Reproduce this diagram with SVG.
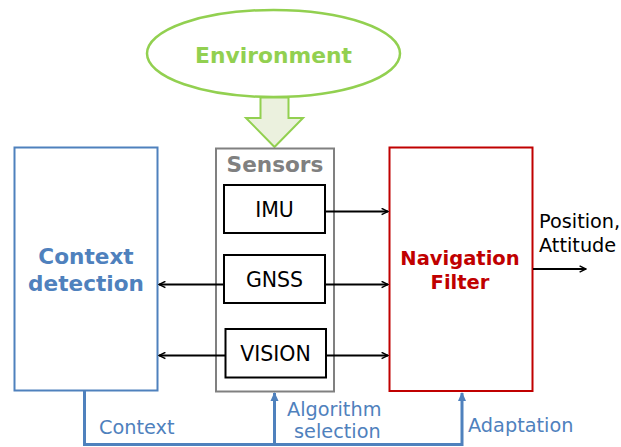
<svg xmlns="http://www.w3.org/2000/svg" width="621" height="447" viewBox="0 0 621 447">
<defs>
<style>
text{font-family:"DejaVu Sans","Verdana",sans-serif}
.b{font-weight:bold}
.box{fill:#fff;stroke-width:2}
.blk{stroke:#000;stroke-width:1.8;fill:none}
.blu{stroke:#4f81bd;stroke-width:3;fill:none}
</style>
<marker id="ah" viewBox="0 0 10 10" refX="9" refY="5" markerWidth="8" markerHeight="8" markerUnits="userSpaceOnUse" orient="auto">
<path d="M1,1 L9,5 L1,9" fill="none" stroke="#000" stroke-width="1.8"/>
</marker>
<marker id="bh" viewBox="0 0 10 10" refX="9" refY="5" markerWidth="9" markerHeight="9" markerUnits="userSpaceOnUse" orient="auto">
<path d="M0,0.5 L10,5 L0,9.5 Z" fill="#4f81bd"/>
</marker>
</defs>
<rect width="621" height="447" fill="#fff"/>
<g id="environment">
<ellipse cx="273.5" cy="53.5" rx="126.5" ry="43.5" fill="#fff" stroke="#92d050" stroke-width="2.5"/>
<text x="273.5" y="62.5" text-anchor="middle" class="b" font-size="21.8" fill="#92d050">Environment</text>
</g>
<g id="env-arrow">
<path d="M260.5,97.5 H288.5 V118 H303 L274.5,147 L246,118 H260.5 Z" fill="#ebf1de" stroke="#92d050" stroke-width="2"/>
</g>
<g id="context-detection">
<rect x="14.5" y="147.5" width="143" height="243" class="box" stroke="#4f81bd"/>
<text x="86" y="264" text-anchor="middle" class="b" font-size="21.6" fill="#4f81bd">Context</text>
<text x="86" y="290.5" text-anchor="middle" class="b" font-size="21.6" fill="#4f81bd">detection</text>
</g>
<g id="sensors">
<rect x="216" y="148.5" width="118" height="243" class="box" stroke="#808080"/>
<text x="275" y="171.5" text-anchor="middle" class="b" font-size="21.6" fill="#808080">Sensors</text>
</g>
<g id="imu">
<rect x="224" y="185" width="101" height="48" class="box" stroke="#000"/>
<text x="274.5" y="217.3" text-anchor="middle" font-size="20.5" fill="#000">IMU</text>
</g>
<g id="gnss">
<rect x="224" y="255" width="101" height="48" class="box" stroke="#000"/>
<text x="274.5" y="286.7" text-anchor="middle" font-size="20.5" fill="#000">GNSS</text>
</g>
<g id="vision">
<rect x="225.5" y="329" width="100.5" height="48.5" class="box" stroke="#000"/>
<text x="275.5" y="360.7" text-anchor="middle" font-size="20.5" fill="#000">VISION</text>
</g>
<g id="navigation-filter">
<rect x="389.5" y="147.5" width="143" height="243.5" class="box" stroke="#c00000"/>
<text x="460" y="265" text-anchor="middle" class="b" font-size="19.5" fill="#c00000">Navigation</text>
<text x="460" y="289" text-anchor="middle" class="b" font-size="19.5" fill="#c00000">Filter</text>
</g>
<g id="connectors">
<line x1="325" y1="211.5" x2="388" y2="211.5" class="blk" marker-end="url(#ah)"/>
<line x1="325" y1="284.5" x2="388" y2="284.5" class="blk" marker-end="url(#ah)"/>
<line x1="326" y1="355.5" x2="388" y2="355.5" class="blk" marker-end="url(#ah)"/>
<line x1="224" y1="284.5" x2="159" y2="284.5" class="blk" marker-end="url(#ah)"/>
<line x1="225.5" y1="355.5" x2="159" y2="355.5" class="blk" marker-end="url(#ah)"/>
<line x1="533" y1="269" x2="586" y2="269" class="blk" marker-end="url(#ah)"/>
<path d="M84.5,391 V444.5 H462 V393" class="blu" marker-end="url(#bh)"/>
<line x1="274.5" y1="444.5" x2="274.5" y2="393" class="blu" marker-end="url(#bh)"/>
</g>
<g id="labels" font-size="19.3" fill="#4f81bd">
<text x="99" y="434.3">Context</text>
<text x="287" y="416">Algorithm</text>
<text x="294" y="438.3">selection</text>
<text x="468" y="431.7">Adaptation</text>
</g>
<g id="output-label" font-size="19.3" fill="#000">
<text x="539" y="228.3">Position,</text>
<text x="539" y="251.7">Attitude</text>
</g>
</svg>
